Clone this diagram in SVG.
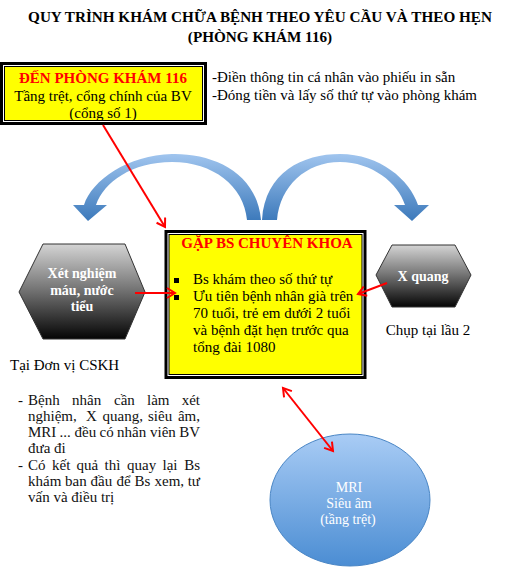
<svg xmlns="http://www.w3.org/2000/svg" width="519" height="573" viewBox="0 0 519 573">
<style>
.t{font-family:"Liberation Serif","Times New Roman",serif;}
.title{font-size:15.2px;font-weight:bold;fill:#000;text-anchor:middle;}
.red{fill:#ff0000;font-weight:bold;font-size:15px;text-anchor:middle;}
.body{font-size:15px;fill:#000;}
.wht{fill:#ffffff;font-size:14px;text-anchor:middle;}
.lst{font-size:15px;fill:#111;}
.conn{stroke:#ff0000;stroke-width:2;fill:none;}
</style>
<defs>
<marker id="ah" markerWidth="12" markerHeight="12" refX="9" refY="6" orient="auto-start-reverse" markerUnits="userSpaceOnUse">
<path d="M1,1 L9,6 L1,11" fill="none" stroke="#ff0000" stroke-width="2"/>
</marker>
<linearGradient id="blue" gradientUnits="userSpaceOnUse" x1="0" y1="152" x2="0" y2="222">
<stop offset="0" stop-color="#a3c7f0"/>
<stop offset="1" stop-color="#3a78ba"/>
</linearGradient>
<linearGradient id="hex" x1="0" y1="0" x2="0" y2="1">
<stop offset="0" stop-color="#d4d4d4"/>
<stop offset="0.45" stop-color="#7a7a7a"/>
<stop offset="1" stop-color="#050505"/>
</linearGradient>
<linearGradient id="ell" x1="0" y1="0" x2="0" y2="1">
<stop offset="0" stop-color="#a9ccf5"/>
<stop offset="1" stop-color="#4b8dd3"/>
</linearGradient>
</defs>

<g id="title" class="t">
<text class="title" x="260" y="22">QUY TRÌNH KHÁM CHỮA BỆNH THEO YÊU CẦU VÀ THEO HẸN</text>
<text class="title" x="260" y="42">(PHÒNG KHÁM 116)</text>
</g>

<g id="blue-arrows">
<path fill="url(#blue)" d="M261,220 C257,172 212,153 172,154 C128,155 92,180 84,205 L73,205 L88,221 L107,205 L96,205 C104,182 132,162 172,162 C213,162 244,186 247,220 Z"/>
<path fill="url(#blue)" d="M262,220 C265,172 303,154 340,154 C380,154 410,180 418,205 L429,205 L412,221 L394,205 L405,205 C398,183 372,162 340,162 C306,162 280,186 277,220 Z"/>
</g>

<g id="node-start" class="t">
<rect x="1.5" y="63.5" width="204" height="60" fill="none" stroke="#000" stroke-width="3"/>
<rect x="4.5" y="66.5" width="198" height="54" fill="#ffff00" stroke="#000" stroke-width="1"/>
<text class="red" x="103" y="83">ĐẾN PHÒNG KHÁM 116</text>
<text class="body" x="103" y="101" text-anchor="middle">Tầng trệt, cổng chính của BV</text>
<text class="body" x="103" y="118" text-anchor="middle">(cổng số 1)</text>
</g>

<g id="note-top" class="t">
<text class="body" x="212" y="82">-Điền thông tin cá nhân vào phiếu in sẵn</text>
<text class="body" x="212" y="100">-Đóng tiền và lấy số thứ tự vào phòng khám</text>
</g>

<g id="node-doctor" class="t">
<rect x="166" y="231.5" width="199" height="146" fill="none" stroke="#000" stroke-width="3"/>
<rect x="169" y="234.5" width="193" height="140" fill="#ffff00" stroke="#000" stroke-width="1"/>
<text class="red" x="267" y="248">GẶP BS CHUYÊN KHOA</text>
<rect x="174" y="278" width="5" height="5" fill="#000"/>
<rect x="174" y="295" width="5" height="5" fill="#000"/>
<text class="body" x="193" y="284">Bs khám theo số thứ tự</text>
<text class="body" x="193" y="301">Ưu tiên bệnh nhân già trên</text>
<text class="body" x="193" y="318">70 tuổi, trẻ em dưới 2 tuổi</text>
<text class="body" x="193" y="335">và bệnh đặt hẹn trước qua</text>
<text class="body" x="193" y="352">tổng đài 1080</text>
</g>

<g id="node-lab" class="t">
<polygon points="43,244 125,244 145,292 125,339 43,339 19,292" fill="url(#hex)" stroke="#333" stroke-width="1"/>
<text class="wht" x="82" y="278" font-weight="bold">Xét nghiệm</text>
<text class="wht" x="82" y="295" font-weight="bold">máu, nước</text>
<text class="wht" x="82" y="311" font-weight="bold">tiểu</text>
</g>
<g id="label-lab" class="t">
<text class="body" x="10" y="370" font-size="15.5">Tại Đơn vị CSKH</text>
</g>

<g id="node-xray" class="t">
<polygon points="392,245 455,245 471,275 455,307 392,307 376,275" fill="url(#hex)" stroke="#333" stroke-width="1"/>
<text class="wht" x="423" y="281" font-weight="bold">X quang</text>
</g>
<g id="label-xray" class="t">
<text class="body" x="428" y="335" text-anchor="middle" font-size="15.5">Chụp tại lầu 2</text>
</g>

<g id="note-bottom" class="t lst">
<text x="18" y="405">-</text>
<text y="405"><tspan x="28">Bệnh</tspan><tspan x="72">nhân</tspan><tspan x="114">cần</tspan><tspan x="147">làm</tspan><tspan x="200" text-anchor="end">xét</tspan></text>
<text y="421"><tspan x="28">nghiệm,</tspan><tspan x="86">X</tspan><tspan x="102.5">quang,</tspan><tspan x="148">siêu</tspan><tspan x="200" text-anchor="end">âm,</tspan></text>
<text y="437"><tspan x="28">MRI</tspan><tspan x="59.5">...</tspan><tspan x="74.5">đều</tspan><tspan x="99.5">có</tspan><tspan x="117">nhân</tspan><tspan x="150">viên</tspan><tspan x="200" text-anchor="end">BV</tspan></text>
<text x="28" y="453">đưa đi</text>
<text x="18" y="470">-</text>
<text y="470"><tspan x="28">Có</tspan><tspan x="52">kết</tspan><tspan x="76.5">quả</tspan><tspan x="104.5">thì</tspan><tspan x="127">quay</tspan><tspan x="162.5">lại</tspan><tspan x="200" text-anchor="end">Bs</tspan></text>
<text y="486"><tspan x="28">khám</tspan><tspan x="65">ban</tspan><tspan x="90.5">đầu</tspan><tspan x="116.5">để</tspan><tspan x="134.5">Bs</tspan><tspan x="154.5">xem,</tspan><tspan x="200" text-anchor="end">tư</tspan></text>
<text x="28" y="502">vấn và điều trị</text>
</g>

<g id="node-mri" class="t">
<ellipse cx="350" cy="500" rx="80" ry="66" fill="url(#ell)" stroke="#4a86c5" stroke-width="1"/>
<text class="wht" x="349" y="492">MRI</text>
<text class="wht" x="349" y="508">Siêu âm</text>
<text class="wht" x="348" y="524">(tầng trệt)</text>
</g>

<g id="connectors">
<line class="conn" x1="103" y1="125" x2="165" y2="227" marker-end="url(#ah)"/>
<line class="conn" x1="135" y1="293" x2="175" y2="293" marker-end="url(#ah)"/>
<line class="conn" x1="387" y1="283" x2="358" y2="294" marker-end="url(#ah)"/>
<line class="conn" x1="283" y1="388" x2="333" y2="451" marker-start="url(#ah)" marker-end="url(#ah)"/>
</g>
</svg>
